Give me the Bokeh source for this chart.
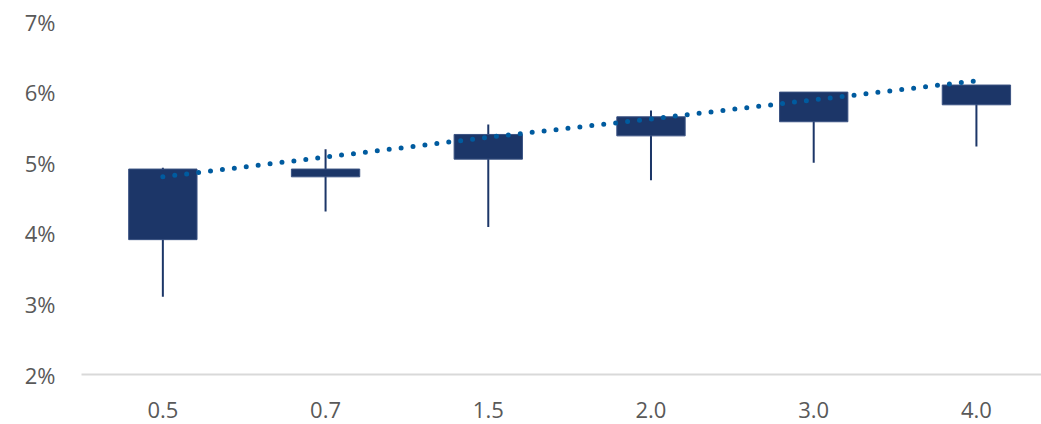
from bokeh.plotting import figure
from bokeh.models import Range1d, FixedTicker, ColumnDataSource
from bokeh.embed import file_html
from bokeh.resources import INLINE

categories = ["0.5", "0.7", "1.5", "2.0", "3.0", "4.0"]
whisker_low = [3.10, 4.31, 4.09, 4.75, 5.00, 5.23]
box_low = [3.91, 4.80, 5.05, 5.38, 5.58, 5.82]
box_high = [4.91, 4.91, 5.40, 5.65, 6.00, 6.10]
whisker_high = [4.93, 5.19, 5.54, 5.74, 6.00, 6.10]
trend = [4.80, 5.08, 5.36, 5.62, 5.89, 6.16]
y_ticks = [2, 3, 4, 5, 6, 7]
y_labels = ["2%", "3%", "4%", "5%", "6%", "7%"]

xs = list(range(len(categories)))
src = ColumnDataSource(dict(x=xs, lo=whisker_low, q1=box_low, q3=box_high,
                            hi=whisker_high, tr=trend))

p = figure(width=1041, height=424, output_backend="svg", toolbar_location=None,
           x_range=Range1d(-0.5, 5.4), y_range=Range1d(2, 7),
           min_border_left=81, min_border_right=0, min_border_top=21,
           min_border_bottom=50)
p.outline_line_color = None
p.background_fill_color = "white"
p.border_fill_color = "white"
p.xgrid.grid_line_color = None
p.ygrid.grid_line_color = None

navy = "#1c3668"
p.segment(x0="x", y0="lo", x1="x", y1="hi", source=src, line_color=navy, line_width=2)
p.vbar(x="x", bottom="q1", top="q3", width=0.42, source=src,
       fill_color=navy, line_color="#3a5282", line_width=1)
p.line(x="x", y="tr", source=src, line_color="#005b9f", line_width=5,
       line_dash="0 12", line_cap="round")

font = "Open Sans"
p.xaxis.ticker = FixedTicker(ticks=xs)
p.xaxis.major_label_overrides = {i: c for i, c in enumerate(categories)}
p.xaxis.axis_line_color = "#d9d9d9"
p.xaxis.axis_line_width = 2
p.xaxis.major_tick_line_color = None
p.xaxis.minor_tick_line_color = None
p.xaxis.major_label_text_font = font
p.xaxis.major_label_text_font_size = "22px"
p.xaxis.major_label_text_color = "#595959"
p.xaxis.major_label_standoff = 21

p.yaxis.ticker = FixedTicker(ticks=y_ticks)
p.yaxis.major_label_overrides = {t: l for t, l in zip(y_ticks, y_labels)}
p.yaxis.axis_line_color = None
p.yaxis.major_tick_line_color = None
p.yaxis.minor_tick_line_color = None
p.yaxis.major_label_text_font = font
p.yaxis.major_label_text_font_size = "22px"
p.yaxis.major_label_text_color = "#595959"
p.yaxis.major_label_standoff = 20

open("out.html", "w").write(file_html(p, INLINE))
